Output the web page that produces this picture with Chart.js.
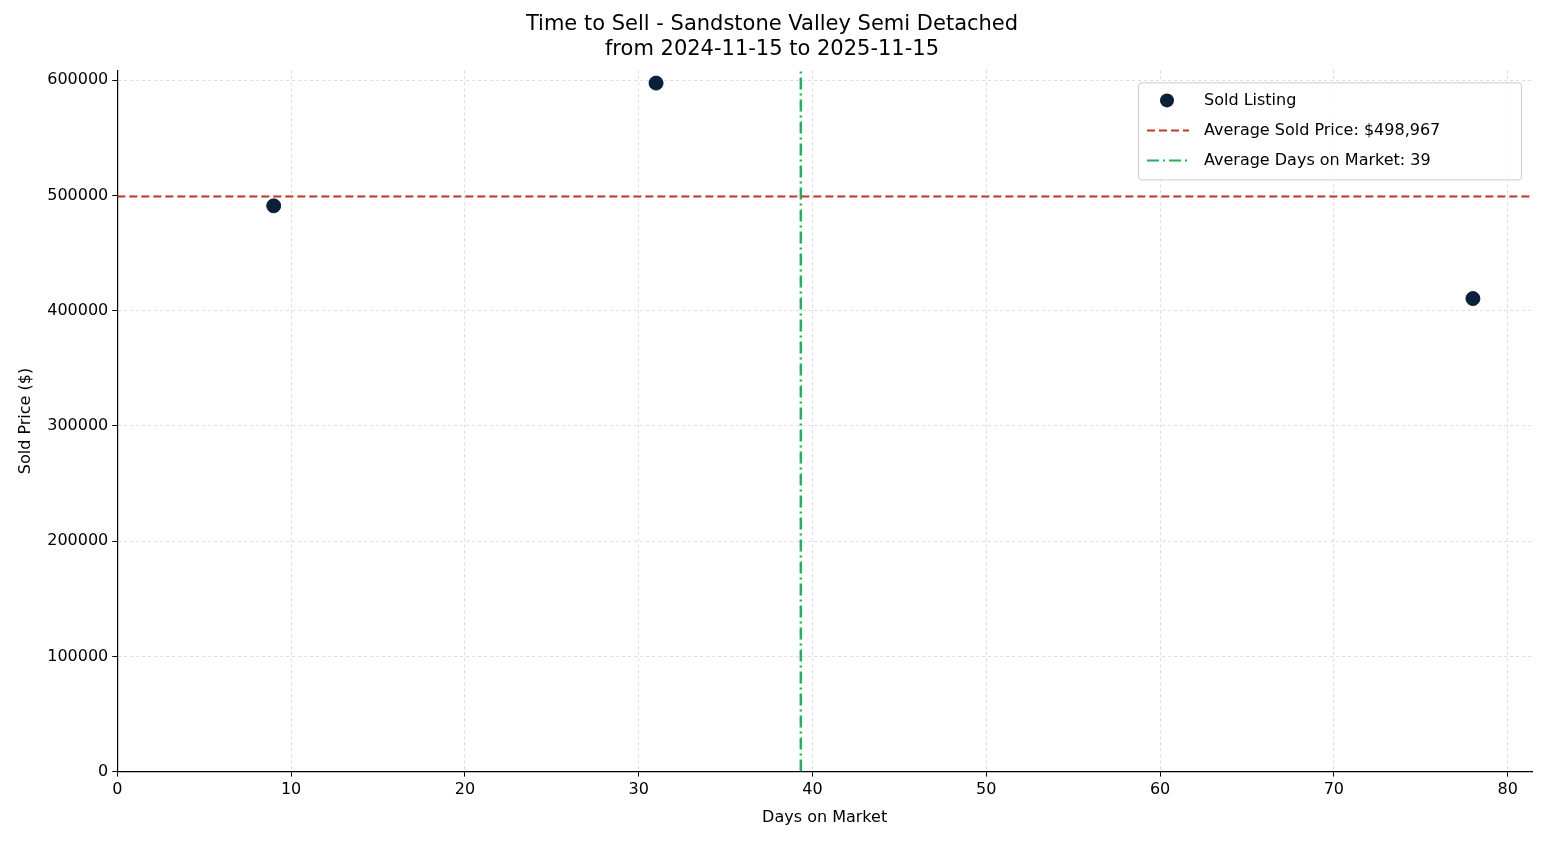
<!DOCTYPE html>
<html lang="en">
  <head>
    <meta charset="UTF-8" />
    <title>Time to Sell</title>
    <style>
      html, body { margin: 0; padding: 0; background: #fff; }
      #wrap { width: 1547px; height: 845px; }
    </style>
  </head>
  <body>
    <div id="wrap"><canvas id="myChart" width="1547" height="845"></canvas></div>

    <script src="https://cdn.jsdelivr.net/npm/chart.js"></script>
    <script>
      const daysOnMarket = [9, 31, 78];
      const soldPrices = [491000, 597500, 410500];
      const avgPrice = 498967;
      const avgDays = 39.33;
      const xTicks = [0, 10, 20, 30, 40, 50, 60, 70, 80];
      const yTicks = [0, 100000, 200000, 300000, 400000, 500000, 600000];
      const legendLabels = ['Sold Listing', 'Average Sold Price: $498,967', 'Average Days on Market: 39'];

      const xMax = 81.4, yMax = 608500;
      const font = { family: 'DejaVu Sans', size: 16 };

      // legend drawn inside the plot, top right
      const boxLegend = {
        id: 'boxLegend',
        afterDraw(chart) {
          const ctx = chart.ctx, a = chart.chartArea;
          ctx.save();
          ctx.font = '16px DejaVu Sans';
          const w = 383, h = 97, x = a.right - 11 - w, y = a.top + 12;
          ctx.fillStyle = 'rgba(255,255,255,0.85)';
          ctx.strokeStyle = '#ccc';
          ctx.lineWidth = 1;
          ctx.beginPath(); ctx.roundRect(x + 0.5, y + 0.5, w, h, 3); ctx.fill(); ctx.stroke();
          const ds = chart.data.datasets;
          legendLabels.forEach((t, i) => {
            const cy = y + 18 + i * 30;
            if (i === 0) {
              ctx.fillStyle = ds[0].backgroundColor;
              ctx.beginPath(); ctx.arc(x + 29, cy, 7, 0, Math.PI * 2); ctx.fill();
            } else {
              ctx.strokeStyle = ds[i].borderColor; ctx.lineWidth = 2;
              ctx.setLineDash(ds[i].borderDash);
              ctx.beginPath(); ctx.moveTo(x + 9, cy); ctx.lineTo(x + 51, cy); ctx.stroke();
              ctx.setLineDash([]);
            }
            ctx.fillStyle = '#000'; ctx.textBaseline = 'middle';
            ctx.fillText(t, x + 66, cy);
          });
          ctx.restore();
        }
      };

      new Chart(document.getElementById('myChart'), {
        type: 'scatter',
        data: {
          datasets: [
            {
              label: legendLabels[0],
              data: daysOnMarket.map((d, i) => ({ x: d, y: soldPrices[i] })),
              backgroundColor: '#0b1f3a', borderColor: '#0b1f3a',
              pointRadius: 7, pointHoverRadius: 7, order: 0
            },
            {
              label: legendLabels[1], type: 'line', showLine: true,
              data: [{ x: 0, y: avgPrice }, { x: xMax, y: avgPrice }],
              borderColor: '#c0392b', borderWidth: 2, borderDash: [8, 4], pointRadius: 0, order: 1
            },
            {
              label: legendLabels[2], type: 'line', showLine: true,
              data: [{ x: avgDays, y: 0 }, { x: avgDays, y: yMax }],
              borderColor: '#27ae60', borderWidth: 2.5, borderDash: [12, 4, 2, 4], pointRadius: 0, order: 2
            }
          ]
        },
        options: {
          responsive: false,
          animation: false,
          devicePixelRatio: 1,
          layout: { padding: { left: 12, right: 15, top: 0, bottom: 14 } },
          plugins: {
            legend: { display: false },
            tooltip: { enabled: false },
            title: {
              display: true,
              text: ['Time to Sell - Sandstone Valley Semi Detached', 'from 2024-11-15 to 2025-11-15'],
              color: '#000', font: { family: 'DejaVu Sans', size: 21, weight: 'normal' },
              padding: { top: 12, bottom: 8 }, lineHeight: 1.3
            }
          },
          scales: {
            x: {
              type: 'linear', min: 0, max: xMax,
              afterBuildTicks: s => { s.ticks = xTicks.map(v => ({ value: v })); },
              ticks: { color: '#000', font, padding: 4 },
              grid: { color: '#ddd', tickColor: '#000', tickLength: 5, drawOnChartArea: true },
              border: { color: '#000', width: 1.2, dash: [3, 3] },
              title: { display: true, text: 'Days on Market', color: '#000', font, padding: { top: 4 } }
            },
            y: {
              type: 'linear', min: 0, max: yMax,
              afterBuildTicks: s => { s.ticks = yTicks.map(v => ({ value: v })); },
              ticks: { color: '#000', font, padding: 4, callback: v => String(v) },
              grid: { color: '#ddd', tickColor: '#000', tickLength: 5 },
              border: { color: '#000', width: 1.2, dash: [3, 3] },
              title: { display: true, text: 'Sold Price ($)', color: '#000', font, padding: { bottom: 8 } }
            }
          }
        },
        plugins: [boxLegend]
      });
    </script>
  </body>
</html>
